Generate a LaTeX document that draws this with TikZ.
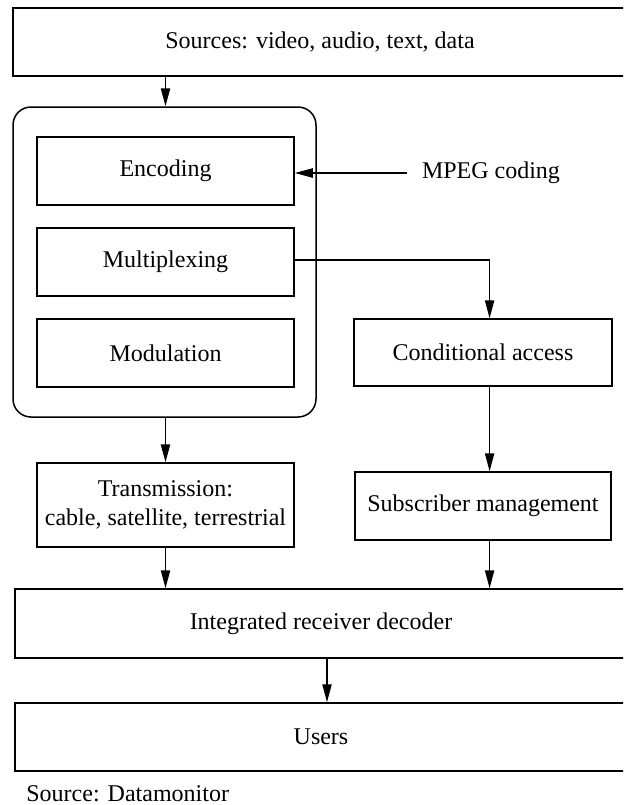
\documentclass[tikz,border=0pt]{standalone}
\usepackage{fontspec}
\setmainfont{Liberation Serif}
\newfontfamily\tnr{Liberation Serif}
\usetikzlibrary{arrows.meta,calc}
\begin{document}
\begin{tikzpicture}[x=0.5pt,y=-0.5pt,
  every node/.style={font=\tnr\fontsize{12}{14.5}\selectfont},
  box/.style={draw,line width=0.75pt,rectangle,inner sep=0pt,align=center},
  wide/.style={box,minimum width=306pt,minimum height=34pt},
  inbox/.style={box,minimum width=128.5pt,minimum height=34pt},
  rbox/.style={box,minimum width=128.5pt,minimum height=34pt},
  grpbox/.style={draw,line width=0.75pt,rounded corners=9pt,minimum width=151.5pt,minimum height=155pt,inner sep=0pt},
  arr/.style={line width=0.8pt,-{Triangle[length=9pt,width=4.6pt]}},
  conn/.style={line width=0.75pt}]
\useasboundingbox (0,0) rectangle (623,805);
\clip (0,0) rectangle (623,805);
\node[wide,minimum width=307pt] (src) at (320,42) {Sources: video, audio, text, data};
\node[grpbox] (grp) at (164.5,262) {};
\node[inbox] (enc) at (165.5,171) {Encoding};
\node[inbox] (mux) at (165.5,262) {Multiplexing};
\node[inbox] (mod) at (165.5,353) {Modulation};
\node[inner sep=0pt,inner xsep=7.5pt] (mpeg) at (491,173) {MPEG coding};
\node[rbox,minimum width=129pt,minimum height=33.5pt] (ca) at (483,352.5) {Conditional access};
\node[rbox,minimum width=128pt] (sub) at (483,506) {Subscriber management};
\node[inbox,minimum height=42pt] (trans) at (165.5,505) {Transmission:\\cable, satellite, terrestrial};
\node[wide,minimum height=34.5pt] (ird) at (321,623.5) {Integrated receiver decoder};
\node[wide] (users) at (321,737) {Users};
\node[inner sep=0pt,anchor=base west] (note) at (26,801) {Source: Datamonitor};
% connectors
\draw[arr] (src.south -| enc.north) -- (grp.north -| enc.north);
\draw[arr] (mpeg.west) -- (mpeg.west -| enc.east);
\draw[arr] ([yshift=1pt]mux.east) -| ([xshift=3.3pt]ca.north);
\draw[arr] ([xshift=3.3pt]ca.south) -- ([xshift=3.3pt]sub.north);
\draw[arr] (grp.south -| trans.north) -- (trans.north);
\draw[arr] (trans.south) -- (trans.south |- ird.north);
\draw[arr] ([xshift=3.3pt]sub.south) -- ([xshift=3.3pt]sub.south |- ird.north);
\draw[arr] ([xshift=3pt]ird.south) -- ([xshift=3pt]ird.south |- users.north);
\end{tikzpicture}
\end{document}
